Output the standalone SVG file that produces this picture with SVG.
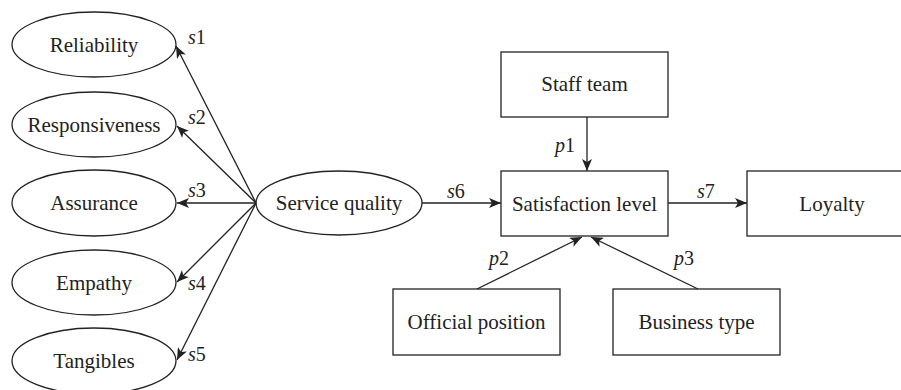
<svg xmlns="http://www.w3.org/2000/svg" width="901" height="390" viewBox="0 0 901 390">
<style>
.n{fill:#fff;stroke:#222;stroke-width:1.3}
.t{font-size:21px;fill:#222;text-anchor:middle}
.l{font-size:20px;fill:#222}
.c line{stroke:#222;stroke-width:1.3;marker-end:url(#a)}
</style>
<defs>
<marker id="a" markerUnits="userSpaceOnUse" markerWidth="12" markerHeight="10" refX="12" refY="5" orient="auto">
<path d="M0,0 L12,5 L0,10 L3,5 z" fill="#222"/>
</marker>
</defs>
<rect width="901" height="390" fill="#fff"/>
<g font-family="'Liberation Serif', 'Times New Roman', serif">
<g id="reliability"><ellipse class="n" cx="94" cy="44.5" rx="82" ry="32.5"/><text class="t" x="94" y="52">Reliability</text></g>
<g id="responsiveness"><ellipse class="n" cx="94" cy="124.5" rx="82" ry="32.5"/><text class="t" x="94" y="132">Responsiveness</text></g>
<g id="assurance"><ellipse class="n" cx="94" cy="203" rx="82" ry="33"/><text class="t" x="94" y="210">Assurance</text></g>
<g id="empathy"><ellipse class="n" cx="94" cy="282.5" rx="82" ry="32.5"/><text class="t" x="94" y="290">Empathy</text></g>
<g id="tangibles"><ellipse class="n" cx="94" cy="361" rx="82" ry="33"/><text class="t" x="94" y="368">Tangibles</text></g>
<g id="service"><ellipse class="n" cx="339" cy="203" rx="83" ry="32"/><text class="t" x="339" y="210">Service quality</text></g>
<g id="staff"><rect class="n" x="501" y="52" width="167" height="65"/><text class="t" x="584.5" y="91">Staff team</text></g>
<g id="satisfaction"><rect class="n" x="501" y="171" width="167" height="65"/><text class="t" x="584.5" y="211">Satisfaction level</text></g>
<g id="loyalty"><rect class="n" x="747" y="171" width="167" height="65"/><text class="t" x="832" y="211">Loyalty</text></g>
<g id="official"><rect class="n" x="393" y="289" width="167" height="66"/><text class="t" x="476.5" y="329">Official position</text></g>
<g id="business"><rect class="n" x="613" y="289" width="167" height="66"/><text class="t" x="696.5" y="329">Business type</text></g>
<g id="connectors" class="c">
<line x1="256" y1="203" x2="176" y2="46"/>
<line x1="256" y1="203" x2="177" y2="126"/>
<line x1="256" y1="203" x2="177" y2="203"/>
<line x1="256" y1="203" x2="177" y2="282"/>
<line x1="256" y1="203" x2="177" y2="360"/>
<line x1="422" y1="203" x2="501" y2="203"/>
<line x1="668" y1="203" x2="747" y2="203"/>
<line x1="587" y1="117" x2="587" y2="171"/>
<line x1="477" y1="289" x2="582" y2="237"/>
<line x1="698" y1="289" x2="591" y2="237"/>
</g>
<g id="labels" class="l">
<text x="188" y="44"><tspan font-style="italic">s</tspan>1</text>
<text x="188" y="124"><tspan font-style="italic">s</tspan>2</text>
<text x="188" y="197"><tspan font-style="italic">s</tspan>3</text>
<text x="188" y="290"><tspan font-style="italic">s</tspan>4</text>
<text x="188" y="361"><tspan font-style="italic">s</tspan>5</text>
<text x="447" y="198"><tspan font-style="italic">s</tspan>6</text>
<text x="697" y="198"><tspan font-style="italic">s</tspan>7</text>
<text x="555" y="152"><tspan font-style="italic">p</tspan>1</text>
<text x="489" y="265"><tspan font-style="italic">p</tspan>2</text>
<text x="674" y="265"><tspan font-style="italic">p</tspan>3</text>
</g>
</g>
</svg>
